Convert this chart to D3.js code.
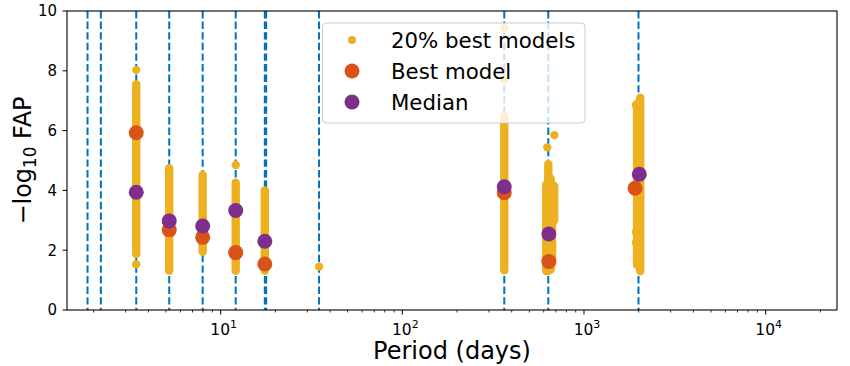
<!DOCTYPE html>
<html>
<head>
<meta charset="utf-8">
<script src="https://cdn.jsdelivr.net/npm/d3@7"></script>
<style>
  html, body { margin: 0; padding: 0; background: #fff; }
  svg { display: block; font-family: "DejaVu Sans", sans-serif; }
</style>
</head>
<body>
<svg id="chart" width="850" height="366"></svg>
<script>
// ---------- data ----------
const xDomain = [1.426, 24700];
const yDomain = [0, 10];
const yTicks = [0, 2, 4, 6, 8, 10];
const xMajorTicks = [10, 100, 1000, 10000];
const xTickExponents = ["1", "2", "3", "4"];

// detected periods (dashed vertical lines)
const linePeriods = [1.85, 2.19, 3.43, 5.21, 7.96, 12.1, 17.5, 17.8, 34.8, 364, 636, 1995];

// 20% best models: dense vertical stacks of points (period, lowest, highest)
const bandPeriods = [3.43, 5.21, 7.96, 12.1, 17.5, 364, 620, 636, 655, 667, 685, 1960, 2040];
const bandLow     = [1.87, 1.31, 1.95, 1.31, 1.31, 1.33, 1.30, 1.30, 1.35, 1.55, 3.00, 1.50, 1.30];
const bandHigh    = [7.55, 4.74, 4.52, 4.26, 4.00, 6.49, 4.20, 4.88, 4.40, 3.00, 4.15, 6.90, 7.10];

// 20% best models: isolated points
const extraPeriods = [3.43, 3.43, 12.1, 34.8, 364, 364, 687, 628, 1932, 1932, 1932, 2016];
const extraValues  = [8.03, 1.53, 4.85, 1.45, 7.69, 9.43, 5.85, 5.44, 6.85, 2.60, 2.25, 1.58];

// best model
const bestPeriods = [3.43, 5.21, 7.96, 12.1, 17.5, 364, 640, 1910];
const bestValues  = [5.93, 2.68, 2.43, 1.92, 1.54, 3.92, 1.62, 4.07];

// median
const medianPeriods = [3.43, 5.21, 7.96, 12.1, 17.5, 364, 640, 2016];
const medianValues  = [3.94, 2.98, 2.81, 3.33, 2.30, 4.12, 2.54, 4.54];

const legendLabels = ["20% best models", "Best model", "Median"];

// ---------- styles ----------
const C_TOP = "#EDB120", C_BEST = "#D95319", C_MED = "#7E2F8E", C_LINE = "#0072BD";
const m = { left: 67, right: 837, top: 11, bottom: 310 };

const svg = d3.select("#chart");
const x = d3.scaleLog().domain(xDomain).range([m.left, m.right]);
const y = d3.scaleLinear().domain(yDomain).range([m.bottom, m.top]);

svg.append("defs").append("clipPath").attr("id", "clip")
  .append("rect").attr("x", m.left).attr("y", m.top)
  .attr("width", m.right - m.left).attr("height", m.bottom - m.top);

const plot = svg.append("g").attr("clip-path", "url(#clip)");

// dashed lines
plot.selectAll("line.per").data(linePeriods).enter().append("line")
  .attr("class", "per")
  .attr("x1", d => x(d)).attr("x2", d => x(d))
  .attr("y1", m.top).attr("y2", m.bottom)
  .attr("stroke", C_LINE).attr("stroke-width", 2)
  .attr("stroke-dasharray", "7.4,3.2");

// dense bands of points
const bands = bandPeriods.map((p, i) => ({ p, lo: bandLow[i], hi: bandHigh[i] }));
plot.selectAll("line.band").data(bands).enter().append("line")
  .attr("class", "band")
  .attr("x1", d => x(d.p)).attr("x2", d => x(d.p))
  .attr("y1", d => y(d.lo)).attr("y2", d => y(d.hi))
  .attr("stroke", C_TOP).attr("stroke-width", 8.4).attr("stroke-linecap", "round");

plot.selectAll("circle.extra").data(extraPeriods.map((p, i) => ({ p, v: extraValues[i] })))
  .enter().append("circle").attr("class", "extra")
  .attr("cx", d => x(d.p)).attr("cy", d => y(d.v)).attr("r", 4.2).attr("fill", C_TOP);

plot.selectAll("circle.best").data(bestPeriods.map((p, i) => ({ p, v: bestValues[i] })))
  .enter().append("circle").attr("class", "best")
  .attr("cx", d => x(d.p)).attr("cy", d => y(d.v)).attr("r", 7.5).attr("fill", C_BEST);

plot.selectAll("circle.med").data(medianPeriods.map((p, i) => ({ p, v: medianValues[i] })))
  .enter().append("circle").attr("class", "med")
  .attr("cx", d => x(d.p)).attr("cy", d => y(d.v)).attr("r", 7.5).attr("fill", C_MED);

// frame
svg.append("rect").attr("x", m.left).attr("y", m.top)
  .attr("width", m.right - m.left).attr("height", m.bottom - m.top)
  .attr("fill", "none").attr("stroke", "#000").attr("stroke-width", 1.1);

// y axis
const yAxis = svg.append("g");
yTicks.forEach(t => {
  yAxis.append("line").attr("x1", m.left - 4.5).attr("x2", m.left)
    .attr("y1", y(t)).attr("y2", y(t)).attr("stroke", "#000").attr("stroke-width", 1);
  yAxis.append("text").attr("x", m.left - 10).attr("y", y(t)).attr("dy", "0.36em")
    .attr("text-anchor", "end").attr("font-size", 15).attr("fill", "#000").text(t);
});

// x axis ticks (major + minor)
const xAxis = svg.append("g");
const minor = [];
for (let e = 0; e <= 4; e++) for (let k = 2; k <= 9; k++) {
  const v = k * Math.pow(10, e);
  if (v >= xDomain[0] && v <= xDomain[1]) minor.push(v);
}
minor.forEach(v => {
  xAxis.append("line").attr("x1", x(v)).attr("x2", x(v))
    .attr("y1", m.bottom).attr("y2", m.bottom + 2.5).attr("stroke", "#000").attr("stroke-width", 0.8);
});
xMajorTicks.forEach((v, i) => {
  xAxis.append("line").attr("x1", x(v)).attr("x2", x(v))
    .attr("y1", m.bottom).attr("y2", m.bottom + 4.5).attr("stroke", "#000").attr("stroke-width", 1);
  const t = xAxis.append("text").attr("x", x(v) + 3).attr("y", 334.5)
    .attr("text-anchor", "middle").attr("font-size", 15.5).attr("fill", "#000");
  t.append("tspan").text("10");
  t.append("tspan").attr("dy", -7).attr("font-size", 11).text(xTickExponents[i]);
});

// axis labels
svg.append("text").attr("x", (m.left + m.right) / 2).attr("y", 359)
  .attr("text-anchor", "middle").attr("font-size", 24).attr("fill", "#000")
  .text("Period (days)");

const yl = svg.append("text")
  .attr("transform", `translate(31,${(m.top + m.bottom) / 2}) rotate(-90)`)
  .attr("text-anchor", "middle").attr("font-size", 24).attr("fill", "#000");
yl.append("tspan").text("\u2212log");
yl.append("tspan").attr("dy", 5).attr("font-size", 16.8).text("10");
yl.append("tspan").attr("dy", -5).text(" FAP");

// legend
const lg = svg.append("g");
lg.append("rect").attr("x", 322.5).attr("y", 23).attr("width", 262.5).attr("height", 100)
  .attr("rx", 4).attr("fill", "#fff").attr("fill-opacity", 0.8)
  .attr("stroke", "#cccccc").attr("stroke-width", 1);
const lgColors = [C_TOP, C_BEST, C_MED];
const lgR = [4, 7.5, 7.5];
const lgY = [40, 71, 102];
legendLabels.forEach((lab, i) => {
  lg.append("circle").attr("cx", 352).attr("cy", lgY[i]).attr("r", lgR[i]).attr("fill", lgColors[i]);
  lg.append("text").attr("x", 391).attr("y", lgY[i]).attr("dy", "0.36em")
    .attr("font-size", 21.3).attr("fill", "#000").text(lab);
});
</script>
</body>
</html>
